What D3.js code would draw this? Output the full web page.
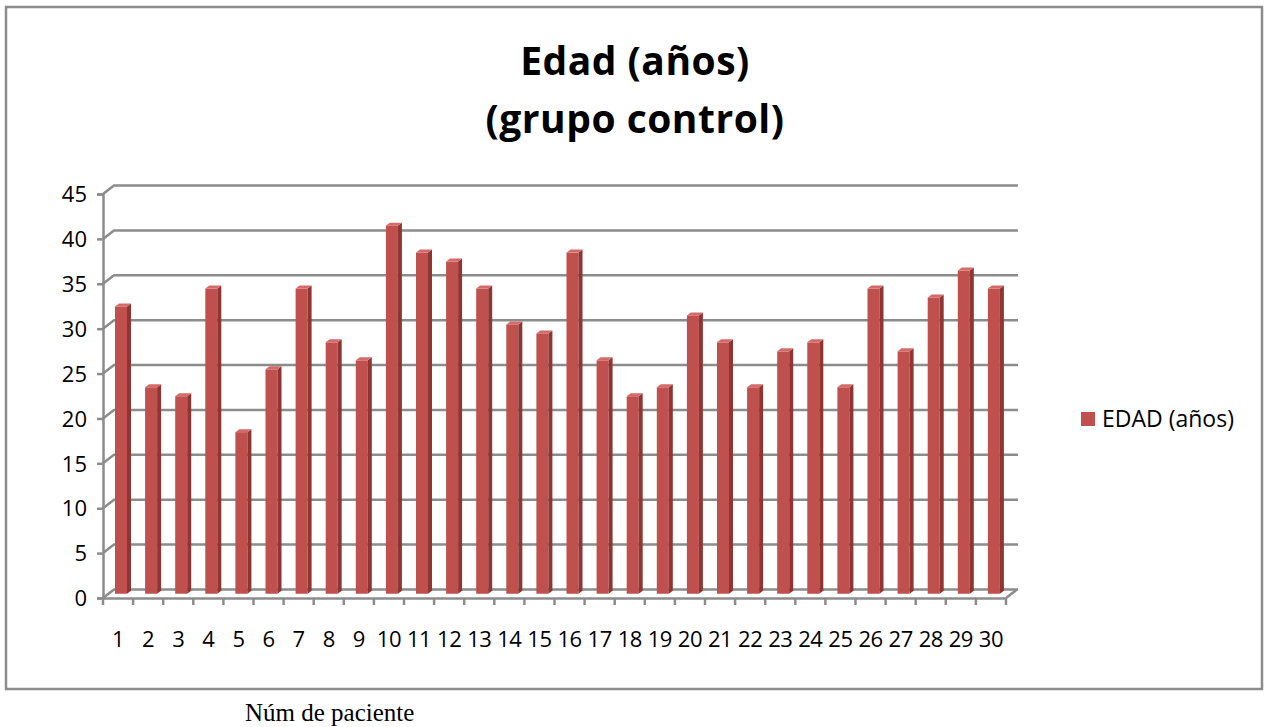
<!DOCTYPE html>
<html>
<head>
<meta charset="utf-8">
<script src="https://cdn.jsdelivr.net/npm/d3@7"></script>
<style>
  body { margin: 0; background: #fff; }
  text { font-family: "Open Sans", "Noto Sans", sans-serif; fill: #000; }
</style>
</head>
<body>
<script>
// data
const pacientes = d3.range(1, 31).map(String)
const edades = [32, 23, 22, 34, 18, 25, 34, 28, 26, 41, 38, 37, 34, 30, 29, 38, 26, 22, 23, 31, 28, 23, 27, 28, 23, 34, 27, 33, 36, 34]
const yTicks = [0, 5, 10, 15, 20, 25, 30, 35, 40, 45]
const titulo = ['Edad (años)', '(grupo control)']
const serieNombre = 'EDAD (años)'
const ejeX = 'Núm de paciente'

const width = 1265
const height = 727
const depth = {dx: 11, dy: -8.5}   // 3d offset of the back wall

const svg = d3.select('body').append('svg')
  .attr('width', width)
  .attr('height', height)

// outer frame
svg.append('rect')
  .attr('x', 6).attr('y', 7)
  .attr('width', 1256).attr('height', 682)
  .attr('fill', 'none')
  .attr('stroke', '#8c8c8c')
  .attr('stroke-width', 2.5)

const x = d3.scaleBand()
  .domain(pacientes)
  .range([103, 1006])
  .paddingInner(0)

const y = d3.scaleLinear()
  .domain([0, 45])
  .range([598, 194])

const chart = svg.append('g')

// back wall gridlines with slanted connector
const grid = chart.append('g')
yTicks.forEach(t => {
  const yy = y(t)
  grid.append('path')
    .attr('d', `M${103},${yy} L${103 + depth.dx},${yy + depth.dy} L${1018},${yy + depth.dy}`)
    .attr('fill', 'none')
    .attr('stroke', '#8c8c8c')
    .attr('stroke-width', 2.5)
})
// floor right edge
grid.append('path')
  .attr('d', `M1006,${y(0)} L${1006 + depth.dx},${y(0) + depth.dy}`)
  .attr('stroke', '#8c8c8c')
  .attr('stroke-width', 2.5)

// y axis
const yAxis = d3.axisLeft(y).tickValues(yTicks).tickSize(6).tickPadding(10)
chart.append('g')
  .attr('transform', 'translate(103,0)')
  .call(yAxis)
  .call(g => g.select('.domain').attr('stroke', '#8c8c8c').attr('stroke-width', 2.5))
  .call(g => g.selectAll('.tick line').attr('stroke', '#8c8c8c').attr('stroke-width', 2.5))
  .call(g => g.selectAll('.tick text').attr('font-size', 22).attr('font-family', '"Open Sans", sans-serif').attr('dy', '0.35em'))

// x axis
const xAxis = d3.axisBottom(x).tickSize(0).tickPadding(33)
const xg = chart.append('g')
  .attr('transform', `translate(0,${y(0)})`)
  .call(xAxis)
xg.select('.domain').attr('stroke', '#8c8c8c').attr('stroke-width', 2.5)
xg.selectAll('.tick text').attr('font-size', 22).attr('font-family', '"Open Sans", sans-serif').attr('letter-spacing', '-0.5px')
// boundary ticks between categories
xg.append('g').selectAll('line')
  .data(pacientes.concat(['end']))
  .enter()
  .append('line')
  .attr('x1', (d, i) => i < pacientes.length ? x(d) : x.range()[1])
  .attr('x2', (d, i) => i < pacientes.length ? x(d) : x.range()[1])
  .attr('y1', 0).attr('y2', 7)
  .attr('stroke', '#8c8c8c')
  .attr('stroke-width', 2.5)

// 3d bars, placed half way into the depth
const bw = 12
const side = 4
const bars = chart.append('g').selectAll('g')
  .data(edades)
  .enter()
  .append('g')
  .attr('transform', (d, i) => `translate(${x(pacientes[i]) + 12},${depth.dy / 2})`)

bars.append('rect')
  .attr('x', 0)
  .attr('y', d => y(d))
  .attr('width', bw)
  .attr('height', d => y(0) - y(d))
  .attr('fill', '#c0504d')
bars.append('path')
  .attr('d', d => `M${bw},${y(d)} L${bw + side},${y(d) - 3} L${bw + side},${y(0) - 3} L${bw},${y(0)} Z`)
  .attr('fill', '#8f3532')
bars.append('path')
  .attr('d', d => `M0,${y(d)} L${side},${y(d) - 3} L${bw + side},${y(d) - 3} L${bw},${y(d)} Z`)
  .attr('fill', '#d46b68')

// title
svg.append('g').selectAll('text')
  .data(titulo)
  .enter()
  .append('text')
  .attr('x', 635)
  .attr('y', (d, i) => 75 + i * 58)
  .attr('text-anchor', 'middle')
  .attr('font-size', 39)
  .attr('font-weight', 'bold')
  .attr('letter-spacing', '0.5px')
  .text(d => d)

// legend
const legend = svg.append('g').attr('transform', 'translate(1081,412)')
legend.append('rect')
  .attr('width', 14).attr('height', 14)
  .attr('fill', '#c0504d')
legend.append('text')
  .attr('x', 21).attr('y', 7)
  .attr('dy', '0.35em')
  .attr('font-size', 23)
  .text(serieNombre)

// x axis title below frame
svg.append('text')
  .attr('x', 245)
  .attr('y', 721)
  .attr('font-size', 25)
  .style('font-family', '"Liberation Serif", "DejaVu Serif", serif')
  .text(ejeX)
</script>
</body>
</html>
